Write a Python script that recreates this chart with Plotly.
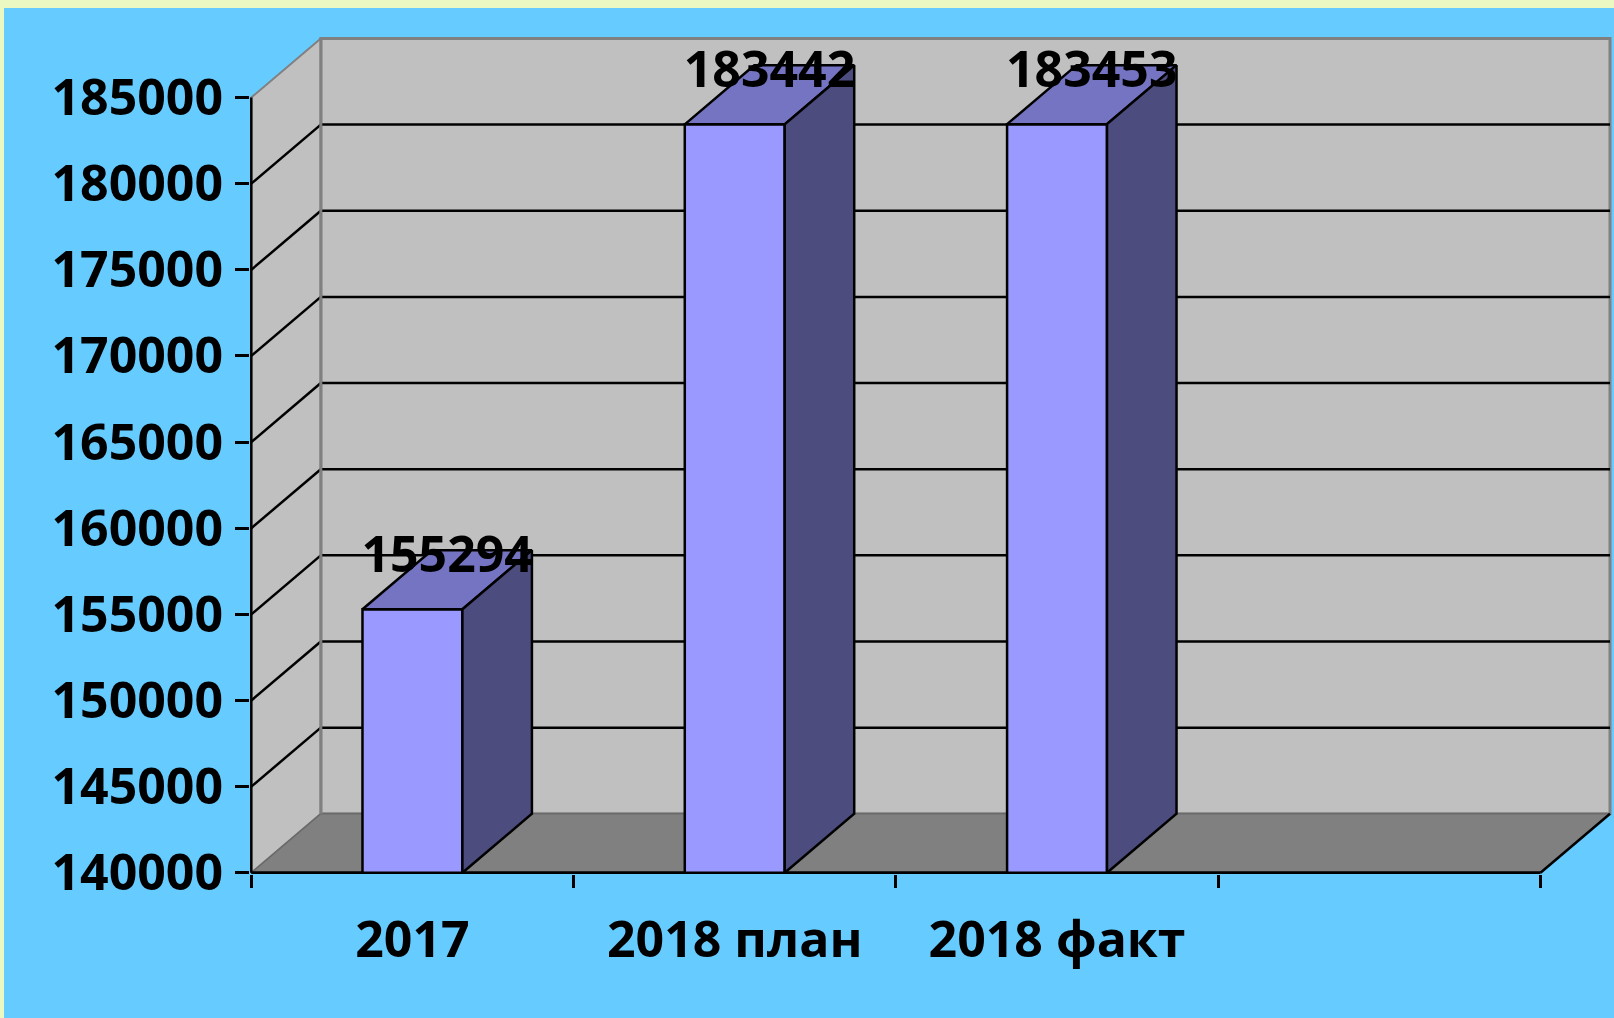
import plotly.graph_objects as go

# ---- data ----
categories = ["2017", "2018 план", "2018 факт"]
values = [155294, 183442, 183453]
y_ticks = list(range(140000, 185001, 5000))
n_slots = 4

# ---- geometry / style ----
Y_MIN, Y_MAX = 140000, 185000
DX = 0.2157        # depth offset in category units
DY = 3425          # depth offset in value units
BAR_W = 0.31
W, H = 1614, 1018
ML, MR, MT, MB = 250, 0, 12, 144
PX_PER_X = 322.3
PX_PER_Y = 0.017229
X0 = -0.004
Y0 = 139930
plot_w = W - ML - MR
plot_h = H - MT - MB
X1 = X0 + plot_w / PX_PER_X
Y1 = Y0 + plot_h / PX_PER_Y

FONT = "Open Sans"
WALL = "#C0C0C0"
EDGE = "#808080"
FLOOR = "#808080"
FRONT = "#9999FF"
TOP = "#7474C2"
SIDE = "#4C4C7E"

fig = go.Figure()


def poly(xs, ys, fill, line_color, line_w):
    fig.add_trace(go.Scatter(
        x=xs + [xs[0]], y=ys + [ys[0]], mode="lines", fill="toself",
        fillcolor=fill, line=dict(color=line_color, width=line_w),
        hoverinfo="skip", showlegend=False))


def seg(xs, ys, color, w):
    fig.add_trace(go.Scatter(
        x=xs, y=ys, mode="lines", line=dict(color=color, width=w),
        hoverinfo="skip", showlegend=False))


# back wall
poly([DX, n_slots + DX, n_slots + DX, DX],
     [Y_MIN + DY, Y_MIN + DY, Y_MAX + DY, Y_MAX + DY], WALL, EDGE, 3)
# left wall
poly([0, DX, DX, 0], [Y_MIN, Y_MIN + DY, Y_MAX + DY, Y_MAX], WALL, EDGE, 2)
# floor
poly([0, n_slots, n_slots + DX, DX],
     [Y_MIN, Y_MIN, Y_MIN + DY, Y_MIN + DY], FLOOR, "#6a6a6a", 1.5)

# gridlines
for t in y_ticks[1:-1]:
    seg([DX, n_slots + DX], [t + DY, t + DY], "black", 2.5)
    seg([0, DX], [t, t + DY], "black", 2.5)
# re-draw left back edge over gridlines
seg([DX, DX], [Y_MIN + DY, Y_MAX + DY], EDGE, 3)

# front edges
seg([0, n_slots], [Y_MIN, Y_MIN], "black", 3)
seg([n_slots, n_slots + DX], [Y_MIN, Y_MIN + DY], "black", 2.5)
seg([0, 0], [Y_MIN, Y_MAX], "black", 2.5)

# bars
for i, v in enumerate(values):
    c = i + 0.5
    xl, xr = c - BAR_W / 2, c + BAR_W / 2
    poly([xl, xr, xr, xl], [Y_MIN, Y_MIN, v, v], FRONT, "black", 2.5)
    poly([xl, xr, xr + DX, xl + DX], [v, v, v + DY, v + DY], TOP, "black", 2.5)
    poly([xr, xr + DX, xr + DX, xr], [Y_MIN, Y_MIN + DY, v + DY, v], SIDE, "black", 2.5)

# data labels
fig.add_trace(go.Scatter(
    x=[i + 0.5 + DX / 2 for i in range(len(values))],
    y=[v + DY - 550 for v in values],
    mode="text", text=[str(v) for v in values], textposition="middle center",
    textfont=dict(family=FONT, size=50, color="black", weight="bold"),
    hoverinfo="skip", showlegend=False, cliponaxis=False))

# background strips (paper coords)
def px_to_paper_x(px):
    return (px - ML) / plot_w


def py_to_paper_y(py):
    return (H - MB - py) / plot_h


STRIP = "#EBF8C2"
shapes = [
    dict(type="rect", xref="paper", yref="paper", layer="below",
         x0=px_to_paper_x(0), x1=px_to_paper_x(W), y0=py_to_paper_y(8), y1=py_to_paper_y(0),
         fillcolor=STRIP, line=dict(width=0)),
    dict(type="rect", xref="paper", yref="paper", layer="below",
         x0=px_to_paper_x(0), x1=px_to_paper_x(4), y0=py_to_paper_y(H), y1=py_to_paper_y(0),
         fillcolor=STRIP, line=dict(width=0)),
]

fig.update_layout(
    width=W, height=H,
    margin=dict(l=ML, r=MR, t=MT, b=MB, pad=0),
    paper_bgcolor="#66CCFF", plot_bgcolor="rgba(0,0,0,0)",
    showlegend=False, shapes=shapes,
    font=dict(family=FONT, size=50, color="black", weight="bold"),
    xaxis=dict(
        range=[X0, X1], showgrid=False, zeroline=False, showline=False,
        tickvals=[i + 0.5 for i in range(len(categories))], ticktext=categories,
        ticks="", ticklabelstandoff=32,
        tickfont=dict(family=FONT, size=50, color="black", weight="bold"),
        minor=dict(tickvals=list(range(n_slots + 1)), ticks="outside",
                   ticklen=13, tickwidth=2.5, tickcolor="black", showgrid=False),
        fixedrange=True),
    yaxis=dict(
        range=[Y0, Y1], showgrid=False, zeroline=False, showline=False,
        tickvals=y_ticks, ticktext=[str(t) for t in y_ticks],
        ticks="outside", ticklen=14, tickwidth=2.5, tickcolor="black",
        ticklabelstandoff=2,
        tickfont=dict(family=FONT, size=50, color="black", weight="bold"),
        fixedrange=True),
)

fig.write_html("out.html", config={"displayModeBar": False},
               post_script="document.body.style.margin='0';document.body.style.overflow='hidden';")
